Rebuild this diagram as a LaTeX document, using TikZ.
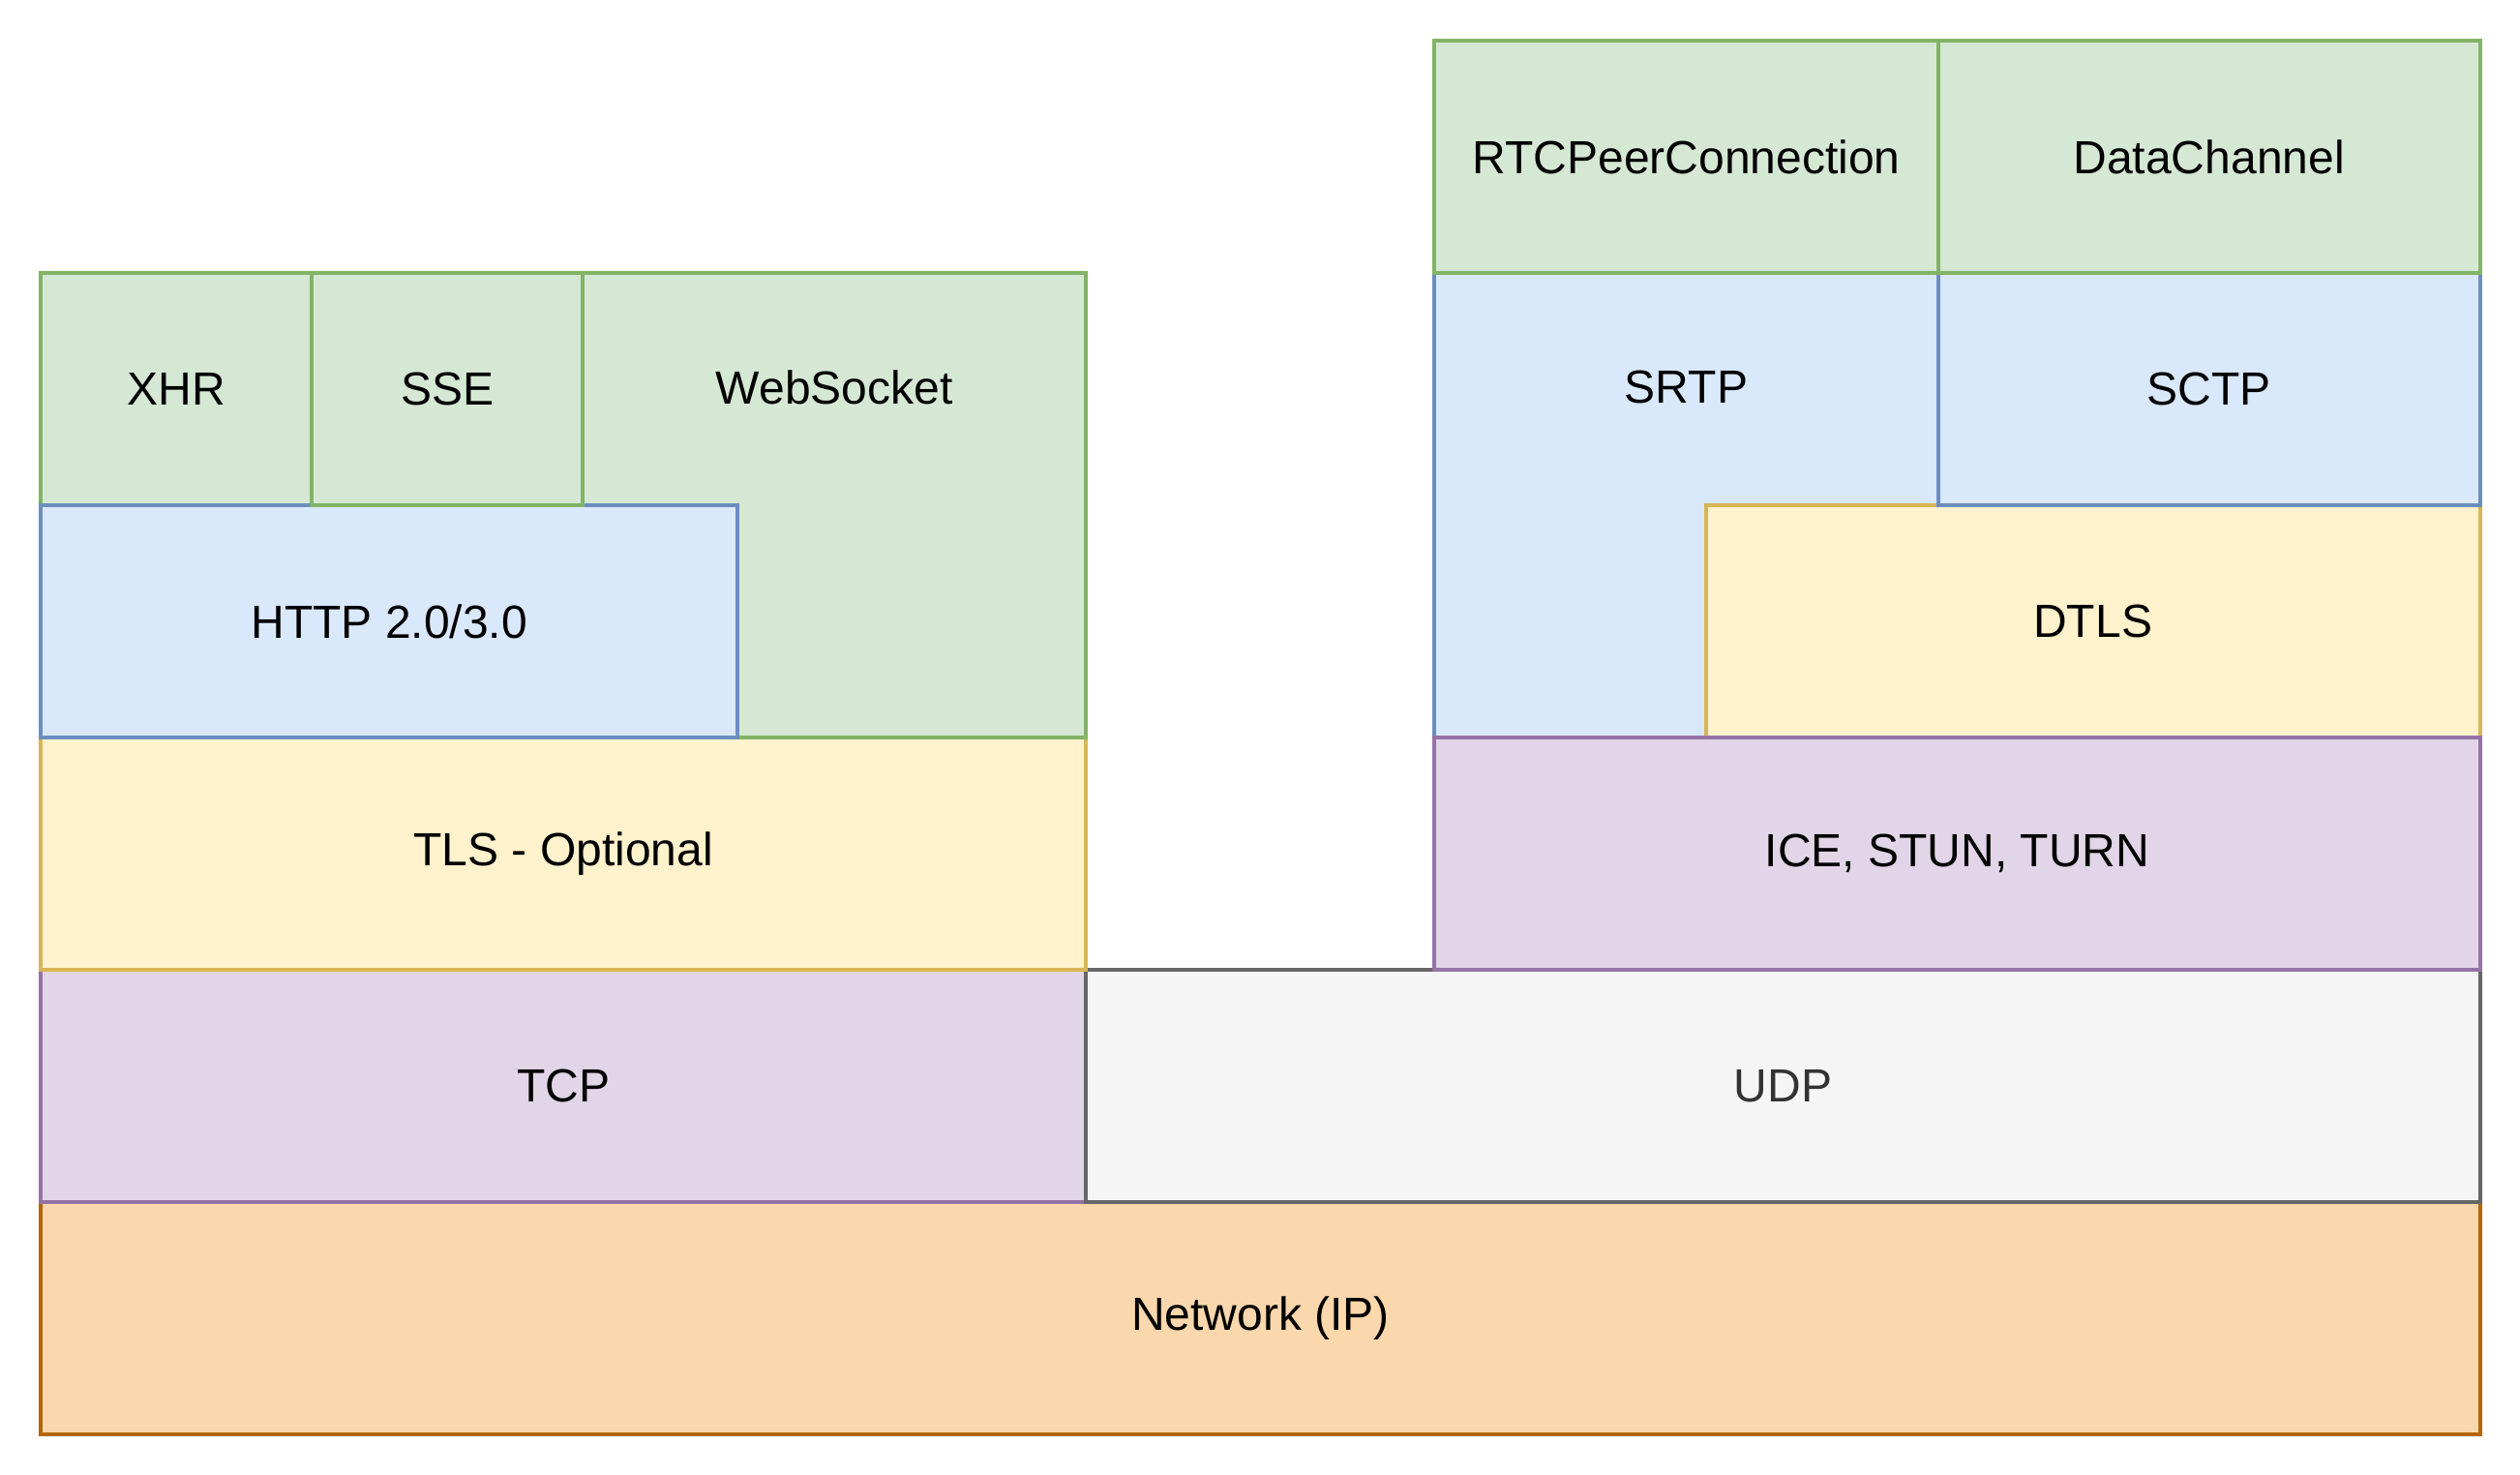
\documentclass[tikz,border=0pt]{standalone}
\usepackage{fontspec}
\setmainfont{Liberation Sans}
\definecolor{greenfill}{HTML}{D5E8D4}
\definecolor{greenline}{HTML}{82B366}
\definecolor{bluefill}{HTML}{DAE8FC}
\definecolor{blueline}{HTML}{6C8EBF}
\definecolor{yellowfill}{HTML}{FFF2CC}
\definecolor{yellowline}{HTML}{D6B656}
\definecolor{purplefill}{HTML}{E1D5E7}
\definecolor{purpleline}{HTML}{9673A6}
\definecolor{grayfill}{HTML}{F5F5F5}
\definecolor{grayline}{HTML}{666666}
\definecolor{graytext}{HTML}{333333}
\definecolor{orangefill}{HTML}{FAD7AC}
\definecolor{orangeline}{HTML}{B46504}
\begin{document}
\begin{tikzpicture}[x=1pt, y=-1pt, font=\fontsize{12}{14}\selectfont,
    layer/.style={draw, rectangle, line width=1pt, inner sep=0pt, anchor=north west},
    greenlayer/.style={layer, fill=greenfill, draw=greenline},
    bluelayer/.style={layer, fill=bluefill, draw=blueline},
    yellowlayer/.style={layer, fill=yellowfill, draw=yellowline},
    purplelayer/.style={layer, fill=purplefill, draw=purpleline},
    graylayer/.style={layer, fill=grayfill, draw=grayline, text=graytext},
    orangelayer/.style={layer, fill=orangefill, draw=orangeline},
    toplabel/.style={label={[anchor=center, yshift=-30pt]north:#1}}]
    \useasboundingbox (-10,-10) rectangle (640.8,370.8);
    % shared bottom layers
    \node[orangelayer, minimum width=630pt, minimum height=60pt] (network) at (0,300) {Network (IP)};
    \node[purplelayer, minimum width=270pt, minimum height=60pt] (tcp) at (0,240) {TCP};
    \node[graylayer, minimum width=360pt, minimum height=60pt] (udp) at (270,240) {UDP};
    % browser stack
    \node[yellowlayer, minimum width=270pt, minimum height=60pt] (tls) at (0,180) {TLS - Optional};
    \node[greenlayer, minimum width=70pt, minimum height=60pt] (xhr) at (0,60) {XHR};
    \node[greenlayer, minimum width=130pt, minimum height=120pt, toplabel=WebSocket] (websocket) at (140,60) {};
    \node[bluelayer, minimum width=180pt, minimum height=60pt] (http) at (0,120) {HTTP 2.0/3.0};
    \node[greenlayer, minimum width=70pt, minimum height=60pt] (sse) at (70,60) {SSE};
    % webrtc stack
    \node[bluelayer, minimum width=130pt, minimum height=120pt, toplabel=SRTP] (srtp) at (360,60) {};
    \node[yellowlayer, minimum width=200pt, minimum height=60pt] (dtls) at (430,120) {DTLS};
    \node[bluelayer, minimum width=140pt, minimum height=60pt] (sctp) at (490,60) {SCTP};
    \node[purplelayer, minimum width=270pt, minimum height=60pt] (ice) at (360,180) {ICE, STUN, TURN};
    \node[greenlayer, minimum width=130pt, minimum height=60pt] (peer) at (360,0) {RTCPeerConnection};
    \node[greenlayer, minimum width=140pt, minimum height=60pt] (channel) at (490,0) {DataChannel};
\end{tikzpicture}
\end{document}
